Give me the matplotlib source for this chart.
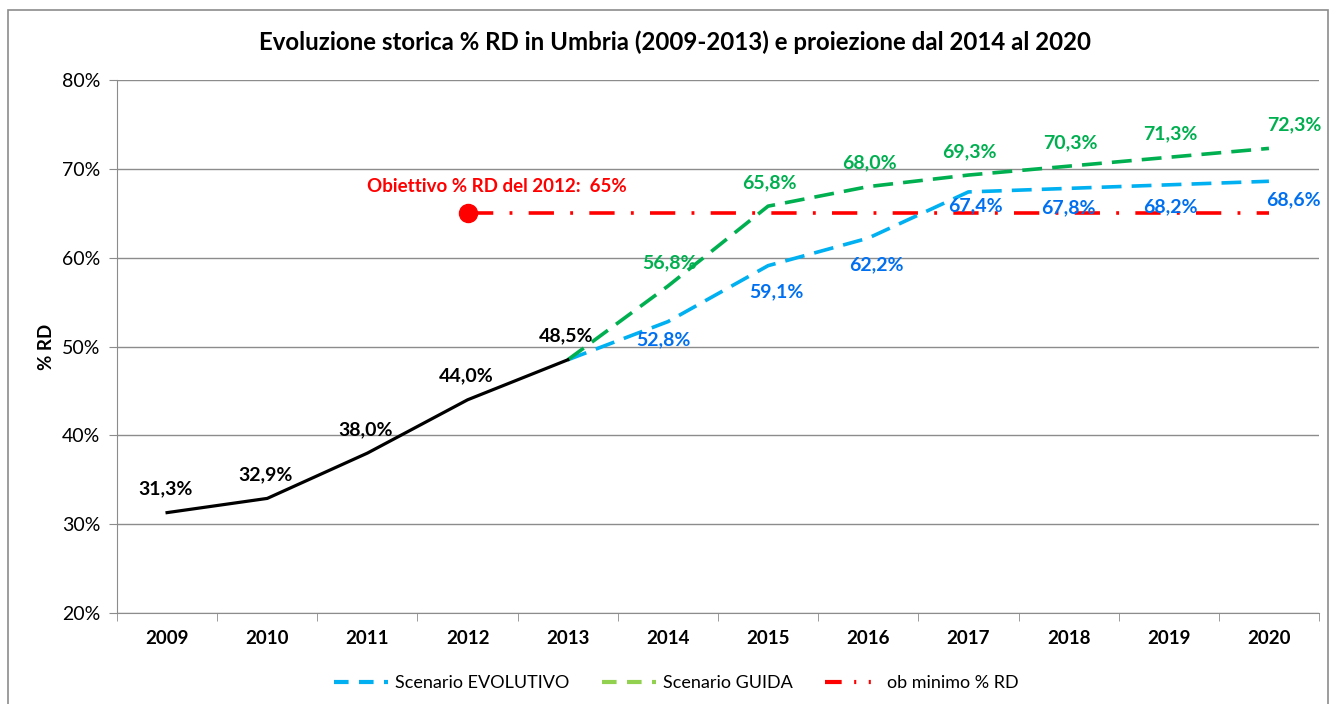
import matplotlib
matplotlib.use("Agg")
import matplotlib.pyplot as plt
from matplotlib.lines import Line2D
from matplotlib.patches import Rectangle

# ── Data ─────────────────────────────────────────────────────────────────────
years = ["2009", "2010", "2011", "2012", "2013", "2014",
         "2015", "2016", "2017", "2018", "2019", "2020"]
storico = [31.3, 32.9, 38.0, 44.0, 48.5]                           # 2009-2013
evolutivo = [48.5, 52.8, 59.1, 62.2, 67.4, 67.8, 68.2, 68.6]       # 2013-2020
guida = [48.5, 56.8, 65.8, 68.0, 69.3, 70.3, 71.3, 72.3]           # 2013-2020
obiettivo = [65.0] * 9                                             # 2012-2020
obiettivo_label = "Obiettivo % RD del 2012:  65%"

plt.rcParams["font.family"] = ["Lato", "DejaVu Sans"]

x_st = list(range(0, 5))
x_pr = list(range(4, 12))
x_ob = list(range(3, 12))

fig = plt.figure(figsize=(13.3, 7.04), dpi=100)
ax = fig.add_axes([117 / 1330, 1 - 613 / 704, 1202 / 1330, 533 / 704])

# outer chart border
fig.patches.append(Rectangle((8 / 1330, -0.01), 1320 / 1330, 1 - 10 / 704 + 0.01,
                             transform=fig.transFigure, fill=False,
                             edgecolor="#8c8c8c", linewidth=1.2))

# ── Lines ────────────────────────────────────────────────────────────────────
red = "#ff0000"
ax.plot(x_ob, obiettivo, color=red, lw=2.6, dashes=(7, 4.5, 0.8, 4.5), zorder=3)
ax.plot(x_ob[0], obiettivo[0], "o", color=red, ms=13, zorder=4)
ax.plot(x_pr, evolutivo, color="#00b0f0", lw=2.6, dashes=(5.5, 2.8), zorder=4)
ax.plot(x_pr, guida, color="#00b050", lw=2.6, dashes=(5.5, 2.8), zorder=5)
ax.plot(x_st, storico, color="black", lw=2.3, zorder=6)

# ── Data labels ──────────────────────────────────────────────────────────────
def fmt(v):
    return f"{v:.1f}%".replace(".", ",")

lbl = dict(fontsize=14, fontweight="bold", ha="center", va="center",
           textcoords="offset points", zorder=7)
for xi, v in zip(x_st, storico):
    ax.annotate(fmt(v), (xi, v), xytext=(-1, 17), color="black", **lbl)
for xi, v in zip(x_pr[1:], guida[1:]):
    dx = 18 if xi == 11 else 1
    ax.annotate(fmt(v), (xi, v), xytext=(dx, 17), color="#00b050", **lbl)
blue_off = [(-3, -13), (6, -19), (6, -19), (5, -10), (0, -14), (1, -16), (18, -13)]
for xi, v, off in zip(x_pr[1:], evolutivo[1:], blue_off):
    ax.annotate(fmt(v), (xi, v), xytext=off, color="#0070f0", **lbl)

ax.annotate(obiettivo_label, (x_ob[0], obiettivo[0]), xytext=(21, 19),
            color=red, **{**lbl, "fontsize": 13.5})

# ── Axes styling ─────────────────────────────────────────────────────────────
ax.set_xlim(-0.5, 11.5)
ax.set_ylim(20, 80)
ax.set_yticks(range(20, 81, 10))
ax.set_yticklabels([f"{v}%" for v in range(20, 81, 10)], fontsize=14)
ax.set_xticks(range(12))
ax.set_xticklabels(years, fontsize=13.5, fontweight="bold")
ax.set_xticks([i + 0.5 for i in range(-1, 12)], minor=True)
ax.tick_params(axis="x", which="major", length=0, pad=12)
ax.tick_params(axis="x", which="minor", length=6, color="#8c8c8c")
ax.tick_params(axis="y", length=6, color="#8c8c8c", pad=6)
ax.grid(axis="y", color="#8c8c8c", lw=1)
ax.set_axisbelow(True)
for s in ["top", "right"]:
    ax.spines[s].set_visible(False)
for s in ["left", "bottom"]:
    ax.spines[s].set_color("#8c8c8c")
ax.set_ylabel("% RD", fontsize=13.5, fontweight="bold", labelpad=5)

fig.text(675 / 1330, 1 - 42 / 704,
         "Evoluzione storica % RD in Umbria (2009-2013) e proiezione dal 2014 al 2020",
         ha="center", va="center", fontsize=17.3, fontweight="bold")

handles = [
    Line2D([], [], color="#00b0f0", lw=3, dashes=(3.5, 2.5)),
    Line2D([], [], color="#92d050", lw=3, dashes=(3.5, 2.5)),
    Line2D([], [], color=red, lw=3, dashes=(4, 3, 0.5, 3, 0.5, 3)),
]
fig.legend(handles, ["Scenario EVOLUTIVO", "Scenario GUIDA", "ob minimo % RD"],
           loc="center", bbox_to_anchor=(676 / 1330, 1 - 683 / 704), ncol=3,
           frameon=False, fontsize=13, handlelength=3.0, columnspacing=1.8,
           handletextpad=0.4)

fig.savefig("out.png", dpi=100)
